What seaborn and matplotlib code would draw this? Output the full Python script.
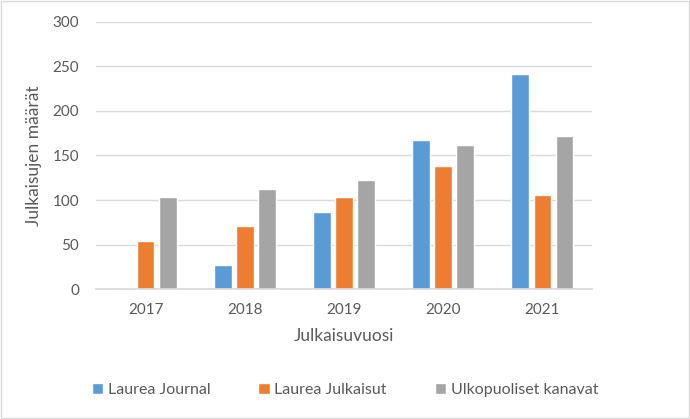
import pandas as pd
import seaborn as sns
import matplotlib.pyplot as plt

# Data
years = ['2017', '2018', '2019', '2020', '2021']
laurea_journal = [0, 27, 87, 167, 241]
laurea_julkaisut = [54, 71, 103, 138, 106]
ulkopuoliset = [103, 112, 123, 162, 172]
series_names = ['Laurea Journal', 'Laurea Julkaisut', 'Ulkopuoliset kanavat']

df = pd.DataFrame({
    'vuosi': years * 3,
    'sarja': [series_names[0]] * 5 + [series_names[1]] * 5 + [series_names[2]] * 5,
    'maara': laurea_journal + laurea_julkaisut + ulkopuoliset,
})

sns.set_theme(style='white')
plt.rcParams['font.family'] = ['Lato', 'DejaVu Sans']

text_col = '#595959'
colors = ['#5B9BD5', '#ED7D31', '#A5A5A5']

fig = plt.figure(figsize=(6.9, 4.19), dpi=100)
ax = fig.add_axes([96 / 690, 1 - 289.3 / 419, (592 - 96) / 690, (289.3 - 21.7) / 419])

sns.barplot(data=df, x='vuosi', y='maara', hue='sarja', palette=colors,
            saturation=1, width=0.67, gap=0.2, ax=ax, legend=True)

ax.set_ylim(0, 300)
ax.set_yticks(range(0, 301, 50))
ax.set_xlim(-0.5, 4.5)
ax.yaxis.grid(True, color='#D9D9D9', linewidth=1)
ax.set_axisbelow(True)
for s in ['top', 'right', 'left']:
    ax.spines[s].set_visible(False)
ax.spines['bottom'].set_color('#D9D9D9')
ax.tick_params(axis='both', colors=text_col, labelsize=11, length=0)
ax.tick_params(axis='x', pad=10)
ax.tick_params(axis='y', pad=12)
ax.set_xlabel('Julkaisuvuosi', fontsize=12.5, color=text_col, labelpad=8)
ax.set_ylabel('Julkaisujen määrät', fontsize=12.5, color=text_col, labelpad=8)

handles, labels = ax.get_legend_handles_labels()
ax.get_legend().remove()
fig.legend(handles, labels, loc='center', bbox_to_anchor=(0.5, 1 - 390 / 419),
           ncol=3, frameon=False, fontsize=11.5, labelcolor=text_col,
           handlelength=0.7, handleheight=0.7, handletextpad=0.3, columnspacing=3)

# light chart border
fig.patches.append(plt.Rectangle((0.002, 0.002), 0.996, 0.996, transform=fig.transFigure,
                                 fill=False, edgecolor='#D9D9D9', linewidth=1))

fig.savefig('out.png', dpi=100)
